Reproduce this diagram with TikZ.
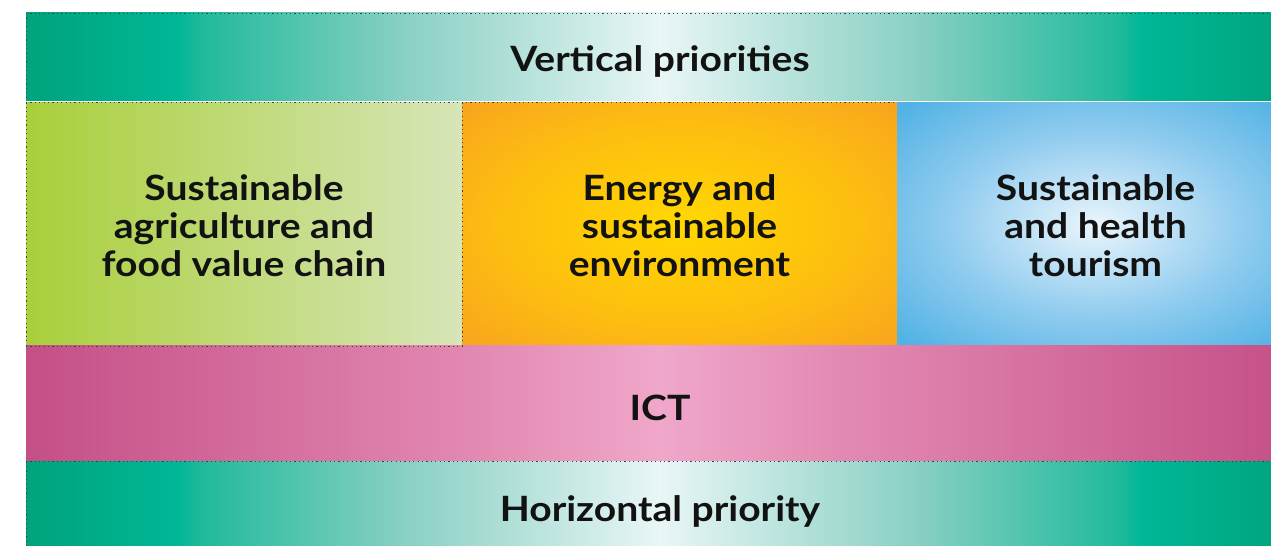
\documentclass[tikz,border=0pt]{standalone}
\usepackage{fontspec}
\setmainfont{Lato}[FakeStretch=1.12]
\definecolor{gA}{HTML}{00A37C}
\definecolor{gB}{HTML}{00B797}
\definecolor{gC}{HTML}{22BA9C}
\definecolor{gD}{HTML}{8AD0C3}
\definecolor{gE}{HTML}{E8F6F6}
\definecolor{lA}{HTML}{A9CF3B}
\definecolor{lB}{HTML}{D7E5B8}
\definecolor{oA}{HTML}{FFD800}
\definecolor{oB}{HTML}{FDBB12}
\definecolor{oC}{HTML}{F7A31E}
\definecolor{bA}{HTML}{EAF5FC}
\definecolor{bB}{HTML}{93CDEF}
\definecolor{bC}{HTML}{52B2E5}
\definecolor{pA}{HTML}{C44F87}
\definecolor{pB}{HTML}{E38AB2}
\definecolor{pC}{HTML}{EFA7CA}
\pgfdeclarehorizontalshading{bandshade}{100bp}{color(0bp)=(gA); color(25bp)=(gA); color(31bp)=(gB); color(32bp)=(gC); color(40bp)=(gD); color(50bp)=(gE); color(60bp)=(gD); color(68bp)=(gC); color(69bp)=(gB); color(75bp)=(gA); color(100bp)=(gA)}
\pgfdeclarehorizontalshading{limeshade}{100bp}{color(0bp)=(lA); color(25bp)=(lA); color(75bp)=(lB); color(100bp)=(lB)}
\pgfdeclarehorizontalshading{pinkshade}{100bp}{color(0bp)=(pA); color(25bp)=(pA); color(43bp)=(pB); color(50bp)=(pC); color(57bp)=(pB); color(75bp)=(pA); color(100bp)=(pA)}
\pgfdeclareradialshading{orangeshade}{\pgfpoint{0bp}{0bp}}{color(0bp)=(oA); color(22bp)=(oB); color(36bp)=(oC); color(50bp)=(oC)}
\pgfdeclareradialshading{blueshade}{\pgfpoint{0bp}{0bp}}{color(0bp)=(bA); color(18bp)=(bB); color(34bp)=(bC); color(50bp)=(bC)}
\begin{document}
\begin{tikzpicture}[x=1bp,y=-1bp,
  lbl/.style={font=\fontsize{35}{38.5}\selectfont\bfseries, text=black!93, align=center, inner sep=0pt, anchor=base},
  dotline/.style={draw=black!75, line width=0.9bp, dash pattern=on 1.2bp off 3.2bp},
  box/.style={draw=none, inner sep=0pt, outer sep=0pt, anchor=north west}]
\useasboundingbox (0,0) rectangle (1271,546);
\clip (0,0) rectangle (1271,546);
\fill[white] (0,0) rectangle (1271,546);
\node[box, shading=bandshade, minimum width=1268bp, minimum height=88bp] (vert) at (26,13) {};
\node[box, shading=limeshade, minimum width=436bp, minimum height=243.5bp] (agri) at (26,102.5) {};
\node[box, shading=orangeshade, minimum width=435bp, minimum height=243.5bp] (energy) at (462,102.5) {};
\node[box, shading=blueshade, minimum width=397bp, minimum height=243.5bp] (tour) at (897,102.5) {};
\node[box, shading=pinkshade, minimum width=1268bp, minimum height=115.5bp] (ict) at (26,346) {};
\node[box, shading=bandshade, minimum width=1268bp, minimum height=100bp] (horiz) at (26,461.5) {};
\draw[dotline] (vert.north west) -- (vert.north east);
\draw[dotline] (vert.north west) -- (vert.south west);
\draw[dotline] (agri.north west) -- (energy.north east);
\draw[dotline] (agri.north west) -- (agri.south west);
\draw[dotline] (agri.north east) -- (agri.south east);
\draw[dotline] (agri.south west) -- (agri.south east);
\draw[dotline] (horiz.north west) -- (horiz.north east);
\draw[dotline] (horiz.north west) -- (horiz.south west);
\node[lbl] (tvert) at (660,72) {Vertical priorities};
\node[lbl] (tagri) at (244,277) {Sustainable\\agriculture and\\food value chain};
\node[lbl] (tenergy) at (679.5,277) {Energy and\\sustainable\\environment};
\node[lbl] (ttour) at (1095.5,277) {Sustainable\\and health\\tourism};
\node[lbl] (tict) at (660,420) {ICT};
\node[lbl] (thoriz) at (660,521) {Horizontal priority};
\end{tikzpicture}
\end{document}
